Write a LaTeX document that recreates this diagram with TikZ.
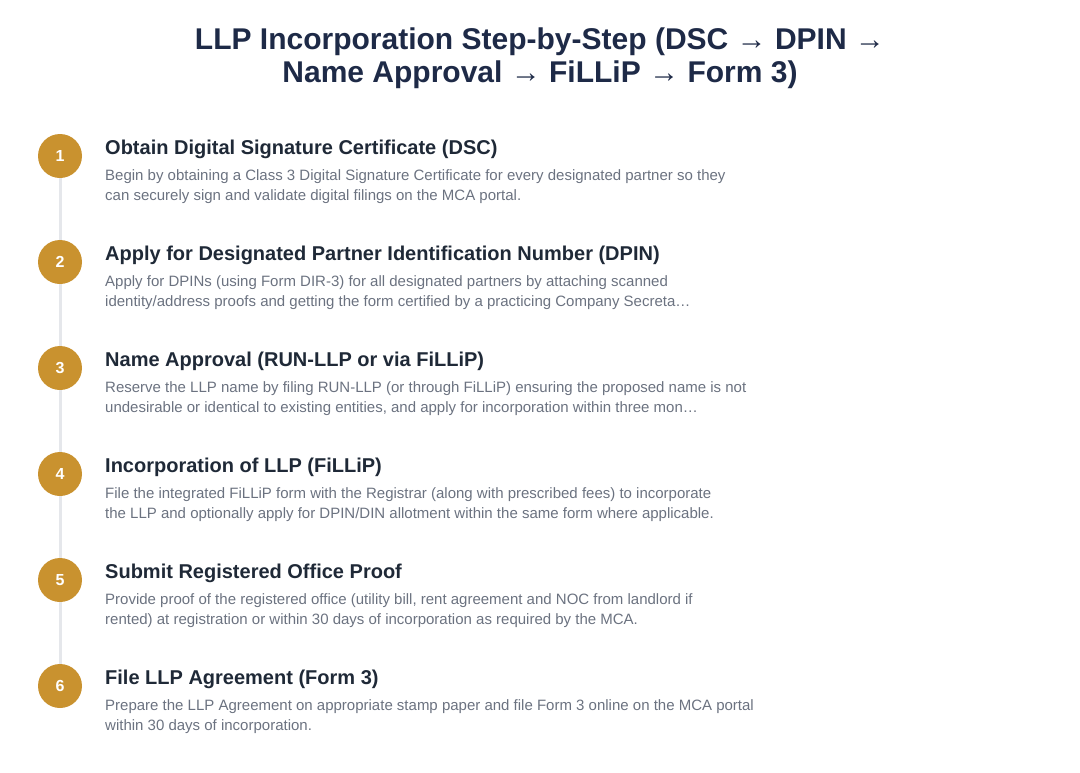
\documentclass[tikz,border=0pt]{standalone}
\usepackage{fontspec}
\setmainfont{Liberation Sans}
\usetikzlibrary{positioning}
\definecolor{gold}{HTML}{C9922F}
\definecolor{navy}{HTML}{1E2A47}
\definecolor{ink}{HTML}{1F2937}
\definecolor{muted}{HTML}{6B7280}
\definecolor{railgray}{HTML}{E5E7EB}

\tikzset{
  stepdot/.style={circle, fill=gold, minimum size=44pt, inner sep=0pt,
                  text=white, font=\bfseries\fontsize{16}{18}\selectfont},
  head/.style={anchor=base west, inner sep=0pt, text=ink,
               font=\bfseries\fontsize{20}{22}\selectfont},
  body/.style={anchor=base west, inner sep=0pt, text=muted, align=left,
               font=\fontsize{15}{20}\selectfont},
  title/.style={anchor=base, inner sep=0pt, text=navy,
                font=\bfseries\fontsize{30}{33}\selectfont},
  rail/.style={draw=railgray, line width=3pt},
}

\begin{document}
\begin{tikzpicture}[x=1pt, y=-1pt]
    \useasboundingbox (0,0) rectangle (1080,772);
    \def\gap{106}  % distance between steps
    \def\top{156}  % centre of the first dot

    % title
    \node[title] (title1) at (540,49) {LLP Incorporation Step-by-Step (DSC → DPIN →};
    \node[title] (title2) at (540,82) {Name Approval → FiLLiP → Form 3)};

    % steps
    \foreach \head/\lineA/\lineB [count=\i] in {
      {Obtain Digital Signature Certificate (DSC)}/{Begin by obtaining a Class 3 Digital Signature Certificate for every designated partner so they}/{can securely sign and validate digital filings on the MCA portal.},
      {Apply for Designated Partner Identification Number (DPIN)}/{Apply for DPINs (using Form DIR-3) for all designated partners by attaching scanned}/{identity/address proofs and getting the form certified by a practicing Company Secreta…},
      {Name Approval (RUN-LLP or via FiLLiP)}/{Reserve the LLP name by filing RUN-LLP (or through FiLLiP) ensuring the proposed name is not}/{undesirable or identical to existing entities, and apply for incorporation within three mon…},
      {Incorporation of LLP (FiLLiP)}/{File the integrated FiLLiP form with the Registrar (along with prescribed fees) to incorporate}/{the LLP and optionally apply for DPIN/DIN allotment within the same form where applicable.},
      {Submit Registered Office Proof}/{Provide proof of the registered office (utility bill, rent agreement and NOC from landlord if}/{rented) at registration or within 30 days of incorporation as required by the MCA.},
      {File LLP Agreement (Form 3)}/{Prepare the LLP Agreement on appropriate stamp paper and file Form 3 online on the MCA portal}/{within 30 days of incorporation.}}{
      \node[stepdot] (s\i) at (60,\top+\gap*\i-\gap) {\i};
      \node[head] (h\i) at (105,\top+\gap*\i-\gap-2) {\head};
      \node[body] (b\i) at (105,\top+\gap*\i-\gap+44) {\lineA\\\lineB};
    }

    % rail between the dots
    \foreach \i [count=\j from 2] in {1,...,5}
      \draw[rail] (s\i) -- (s\j);
\end{tikzpicture}
\end{document}
